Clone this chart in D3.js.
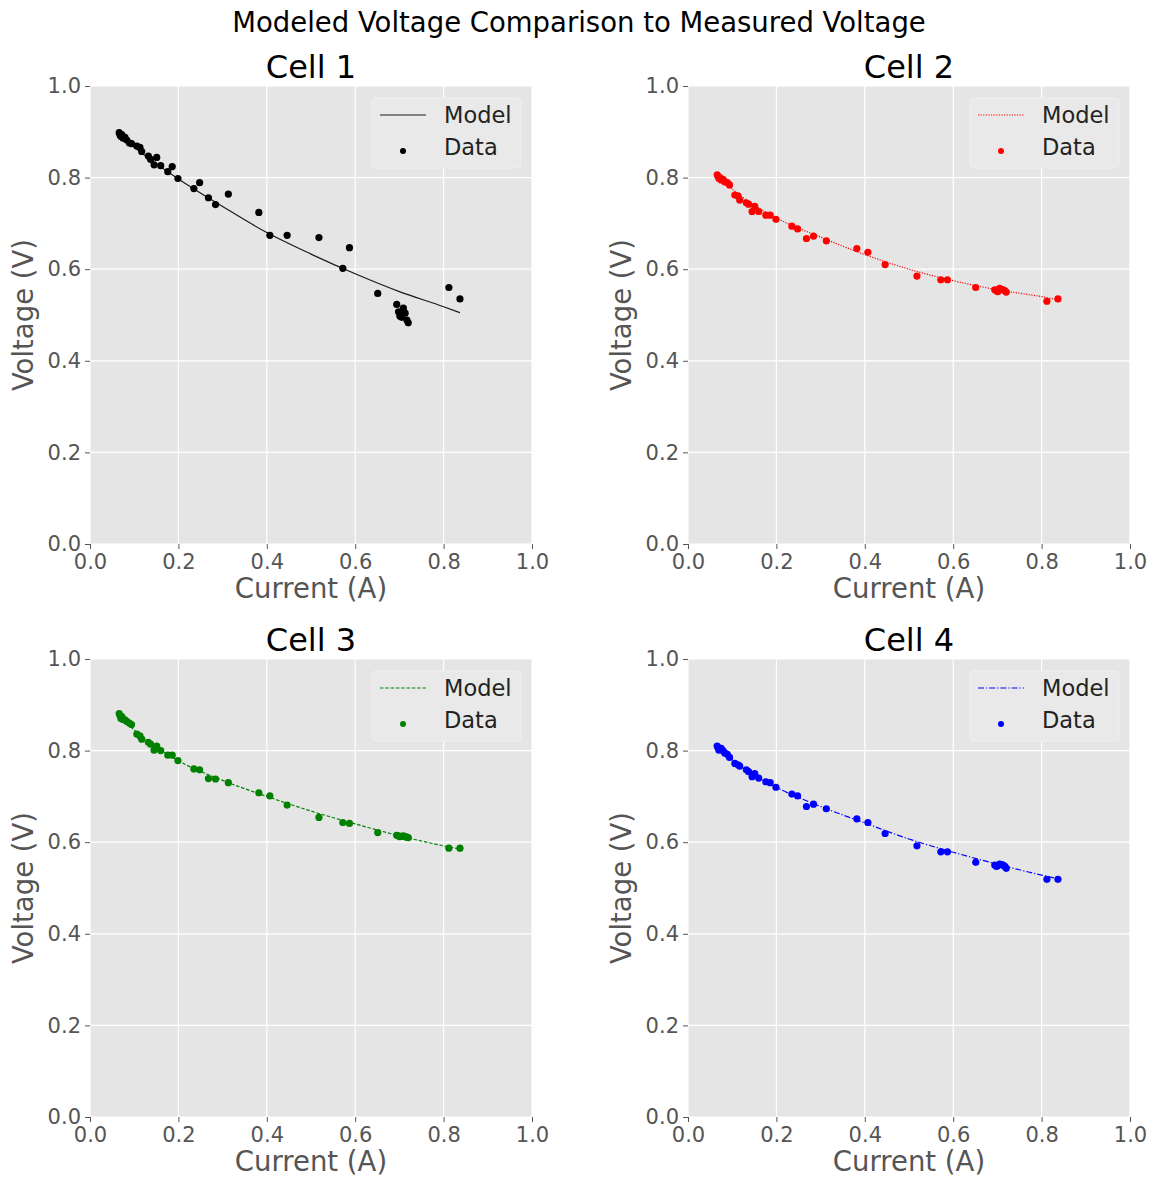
<!DOCTYPE html>
<html>
  <head>
    <meta http-equiv="Content-Type" content="text/html;charset=utf-8" />
    <title>Modeled Voltage Comparison to Measured Voltage</title>
    <script type="text/javascript" src="https://d3js.org/d3.v7.min.js"></script>
    <style>
      body { margin: 0; background: #fff; }
      text { font-family: "DejaVu Sans", sans-serif; }
    </style>
  </head>
  <body>
    <div id="chart"></div>

    <script type="text/javascript">
      // measured currents (shared by all four cells)
      var current = [
        0.066, 0.068, 0.070, 0.072, 0.075, 0.079, 0.083, 0.089, 0.094,
        0.106, 0.113, 0.117, 0.132, 0.137, 0.145, 0.151, 0.160, 0.176, 0.186, 0.199,
        0.235, 0.248, 0.268, 0.284, 0.313,
        0.382, 0.407, 0.446, 0.518, 0.572, 0.587, 0.651,
        0.694, 0.698, 0.701, 0.705, 0.709, 0.713, 0.717, 0.720,
        0.812, 0.837
      ];

      var cell1Voltage = [
        0.898, 0.893, 0.890, 0.894, 0.886, 0.888, 0.882, 0.876, 0.874,
        0.869, 0.866, 0.857, 0.847, 0.840, 0.828, 0.844, 0.826, 0.813, 0.824, 0.798,
        0.776, 0.789, 0.756, 0.741, 0.764,
        0.724, 0.674, 0.674, 0.669, 0.602, 0.647, 0.547,
        0.523, 0.507, 0.498, 0.495, 0.515, 0.504, 0.489, 0.483,
        0.560, 0.535
      ];
      var cell2Voltage = [
        0.806, 0.803, 0.798, 0.800, 0.795, 0.796, 0.791, 0.789, 0.784,
        0.762, 0.760, 0.751, 0.745, 0.742, 0.726, 0.737, 0.726, 0.718, 0.718, 0.709,
        0.694, 0.688, 0.667, 0.672, 0.662,
        0.645, 0.637, 0.610, 0.585, 0.577, 0.577, 0.560,
        0.555, 0.553, 0.551, 0.558, 0.556, 0.555, 0.553, 0.550,
        0.530, 0.535
      ];
      var cell3Voltage = [
        0.881, 0.876, 0.870, 0.874, 0.868, 0.867, 0.864, 0.860, 0.857,
        0.836, 0.832, 0.825, 0.818, 0.814, 0.801, 0.810, 0.800, 0.790, 0.790, 0.778,
        0.760, 0.758, 0.739, 0.738, 0.730,
        0.708, 0.701, 0.681, 0.654, 0.643, 0.641, 0.621,
        0.615, 0.614, 0.612, 0.613, 0.614, 0.612, 0.611, 0.610,
        0.587, 0.587
      ];
      var cell4Voltage = [
        0.810, 0.806, 0.801, 0.803, 0.805, 0.800, 0.795, 0.792, 0.785,
        0.772, 0.769, 0.766, 0.758, 0.754, 0.743, 0.750, 0.740, 0.732, 0.730, 0.720,
        0.705, 0.701, 0.678, 0.683, 0.673,
        0.651, 0.643, 0.619, 0.592, 0.579, 0.579, 0.556,
        0.550, 0.547, 0.549, 0.552, 0.551, 0.550, 0.547, 0.543,
        0.519, 0.519
      ];

      // model curves, read at a few currents
      var modelCurrent = [0.066, 0.1, 0.2, 0.3, 0.4, 0.5, 0.6, 0.7, 0.8, 0.837];
      var cell1Model = [0.893, 0.866, 0.797, 0.737, 0.680, 0.633, 0.590, 0.551, 0.518, 0.505];
      var cell2Model = [0.805, 0.775, 0.712, 0.670, 0.632, 0.600, 0.575, 0.555, 0.540, 0.533];
      var cell3Model = [0.877, 0.845, 0.778, 0.735, 0.700, 0.668, 0.640, 0.614, 0.592, 0.585];
      var cell4Model = [0.808, 0.780, 0.720, 0.678, 0.642, 0.607, 0.578, 0.552, 0.528, 0.520];

      var cellTitles = ["Cell 1", "Cell 2", "Cell 3", "Cell 4"];
      var xTicks = [0, 0.2, 0.4, 0.6, 0.8, 1.0];
      var yTicks = [0, 0.2, 0.4, 0.6, 0.8, 1.0];

      var voltages = [cell1Voltage, cell2Voltage, cell3Voltage, cell4Voltage];
      var models = [cell1Model, cell2Model, cell3Model, cell4Model];

      // styling per panel
      var styles = [
        { color: "#000000", line: "#1a1a1a", dash: null },
        { color: "#ff0000", line: "#ff0000", dash: "1.2,1.4" },
        { color: "#008000", line: "#008000", dash: "3.5,1.8" },
        { color: "#0000ff", line: "#0000ff", dash: "6,2,1.2,2" }
      ];
      var origins = [[90, 86], [688, 86], [90, 659], [688, 659]];

      var W = 1154, H = 1181;
      var pw = 442, ph = 458;

      var svg = d3
        .select("#chart")
        .append("svg")
        .attr("width", W)
        .attr("height", H);

      svg.append("rect").attr("width", W).attr("height", H).attr("fill", "#fff");

      svg
        .append("text")
        .attr("x", 579)
        .attr("y", 32)
        .attr("text-anchor", "middle")
        .attr("font-size", 27.5)
        .attr("fill", "#000")
        .text("Modeled Voltage Comparison to Measured Voltage");

      var x = d3.scaleLinear().domain([0, 1]).range([0, pw]);
      var y = d3.scaleLinear().domain([0, 1]).range([ph, 0]);

      var modelLine = d3
        .line()
        .x(d => x(d[0]))
        .y(d => y(d[1]))
        .curve(d3.curveMonotoneX);

      cellTitles.forEach(function(title, i) {
        var st = styles[i];
        var g = svg
          .append("g")
          .attr("transform", "translate(" + origins[i][0] + "," + origins[i][1] + ")");

        g.append("rect")
          .attr("width", pw)
          .attr("height", ph)
          .attr("fill", "#e5e5e5");

        // grid
        g.selectAll(".gx")
          .data(xTicks)
          .enter()
          .append("line")
          .attr("x1", d => x(d))
          .attr("x2", d => x(d))
          .attr("y1", 0)
          .attr("y2", ph)
          .attr("stroke", "#fff")
          .attr("stroke-width", 1.2);
        g.selectAll(".gy")
          .data(yTicks)
          .enter()
          .append("line")
          .attr("y1", d => y(d))
          .attr("y2", d => y(d))
          .attr("x1", 0)
          .attr("x2", pw)
          .attr("stroke", "#fff")
          .attr("stroke-width", 1.2);

        var xAxis = d3
          .axisBottom(x)
          .tickValues(xTicks)
          .tickFormat(d3.format(".1f"))
          .tickSize(5)
          .tickPadding(5);
        var yAxis = d3
          .axisLeft(y)
          .tickValues(yTicks)
          .tickFormat(d3.format(".1f"))
          .tickSize(5)
          .tickPadding(4);

        var gx = g
          .append("g")
          .attr("transform", "translate(0," + ph + ")")
          .call(xAxis);
        var gy = g.append("g").call(yAxis);
        [gx, gy].forEach(function(a) {
          a.select(".domain").remove();
          a.selectAll("line").attr("stroke", "#555");
          a.selectAll("text")
            .attr("fill", "#555")
            .attr("font-size", 21)
            .attr("font-family", "DejaVu Sans");
        });

        // model curve
        var mpts = modelCurrent.map((c, k) => [c, models[i][k]]);
        g.append("path")
          .datum(mpts)
          .attr("d", modelLine)
          .attr("fill", "none")
          .attr("stroke", st.line)
          .attr("stroke-width", 1.2)
          .attr("stroke-dasharray", st.dash);

        // data points
        var pts = current.map((c, k) => [c, voltages[i][k]]);
        g.selectAll(".pt")
          .data(pts)
          .enter()
          .append("circle")
          .attr("cx", d => x(d[0]))
          .attr("cy", d => y(d[1]))
          .attr("r", 3.6)
          .attr("fill", st.color);

        // titles
        g.append("text")
          .attr("x", pw / 2)
          .attr("y", -8)
          .attr("text-anchor", "middle")
          .attr("font-size", 32)
          .attr("fill", "#000")
          .text(title);

        g.append("text")
          .attr("x", pw / 2)
          .attr("y", ph + 54)
          .attr("text-anchor", "middle")
          .attr("font-size", 27.5)
          .attr("fill", "#555")
          .text("Current (A)");

        g.append("text")
          .attr("transform", "translate(-57," + ph / 2 + ") rotate(-90)")
          .attr("text-anchor", "middle")
          .attr("font-size", 27.5)
          .attr("fill", "#555")
          .text("Voltage (V)");

        // legend
        var lg = g.append("g").attr("transform", "translate(" + (pw - 160) + ",12)");
        lg.append("rect")
          .attr("width", 149)
          .attr("height", 70)
          .attr("rx", 4)
          .attr("fill", "#e9e9e9")
          .attr("stroke", "#efefef");
        lg.append("line")
          .attr("x1", 8)
          .attr("x2", 54)
          .attr("y1", 17)
          .attr("y2", 17)
          .attr("stroke", st.line)
          .attr("stroke-width", 1.2)
          .attr("stroke-dasharray", st.dash);
        lg.append("circle")
          .attr("cx", 31)
          .attr("cy", 53)
          .attr("r", 3)
          .attr("fill", st.color);
        lg.append("text")
          .attr("x", 72)
          .attr("y", 24.5)
          .attr("font-size", 22.5)
          .attr("fill", "#222")
          .text("Model");
        lg.append("text")
          .attr("x", 72)
          .attr("y", 57)
          .attr("font-size", 22.5)
          .attr("fill", "#222")
          .text("Data");
      });
    </script>
  </body>
</html>
